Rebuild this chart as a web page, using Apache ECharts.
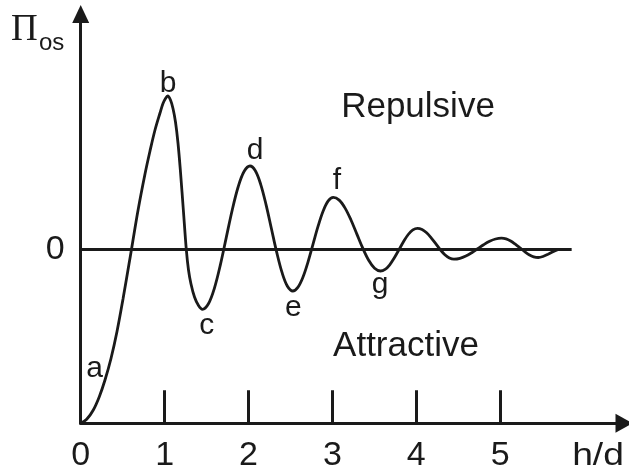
<!DOCTYPE html>
<html>
<head>
<meta charset="utf-8">
<script src="https://cdn.jsdelivr.net/npm/echarts@6/dist/echarts.min.js"></script>
<style>
  html, body { margin: 0; padding: 0; background: #ffffff; }
  #chart { width: 629px; height: 473px; }
</style>
</head>
<body>
<div id="chart"></div>
<script>
// Oscillatory disjoining pressure vs. separation h/d
const hd = [
  0, 0.0715, 0.1502, 0.2217, 0.2896, 0.3611, 0.4327, 0.5042, 0.5757, 0.6055,
  0.6829, 0.7664, 0.8260, 0.8856, 0.9452, 0.9809, 1.0107, 1.0369,
  1.0703, 1.1001, 1.1299, 1.1597, 1.1895, 1.2253, 1.2586, 1.2849, 1.3147, 1.3564, 1.4041, 1.4517,
  1.5225, 1.5933, 1.6640, 1.7348, 1.8056, 1.8764, 1.9471, 2.0179,
  2.0816, 2.1454, 2.2092, 2.2729, 2.3367, 2.4005, 2.4642, 2.5280,
  2.5883, 2.6488, 2.7091, 2.7694, 2.8297, 2.8901, 2.9504, 3.0107,
  3.0811, 3.1514, 3.2217, 3.2920, 3.3623, 3.4327, 3.5030, 3.5733,
  3.6285, 3.6835, 3.7387, 3.7938, 3.8490, 3.9040, 3.9592, 4.0143,
  4.0687, 4.1231, 4.1775, 4.2319, 4.2862, 4.3407, 4.3950, 4.4493,
  4.5202, 4.5910, 4.6617, 4.7324, 4.8032, 4.8740, 4.9447, 5.0155,
  5.0703, 5.1252, 5.1800, 5.2348, 5.2896, 5.3445, 5.3993, 5.4541,
  5.5101, 5.5697, 5.6293, 5.6925
];
const piOs = [
  -1.740, -1.700, -1.607, -1.474, -1.307, -1.092, -0.822, -0.497, -0.147, 0,
  0.388, 0.753, 0.983, 1.193, 1.363, 1.458, 1.508, 1.533,
  1.493, 1.408, 1.273, 1.063, 0.773, 0.373, 0, -0.207, -0.347, -0.477, -0.562, -0.600,
  -0.545, -0.390, -0.158, 0.117, 0.391, 0.623, 0.778, 0.833,
  0.785, 0.650, 0.447, 0.208, -0.031, -0.234, -0.369, -0.417,
  -0.381, -0.280, -0.128, 0.052, 0.231, 0.383, 0.484, 0.520,
  0.492, 0.412, 0.293, 0.152, 0.011, -0.109, -0.189, -0.217,
  -0.201, -0.155, -0.085, -0.004, 0.078, 0.148, 0.194, 0.210,
  0.198, 0.165, 0.115, 0.056, -0.004, -0.054, -0.087, -0.099,
  -0.091, -0.068, -0.034, 0.006, 0.046, 0.080, 0.103, 0.111,
  0.104, 0.083, 0.051, 0.015, -0.022, -0.054, -0.075, -0.082,
  -0.072, -0.050, -0.025, -0.002
];

// Point letters and where they sit
const letters = ['a', 'b', 'c', 'd', 'e', 'f', 'g'];
const letterHd = [0.1645, 1.0405, 1.5018, 2.0775, 2.5340, 3.0549, 3.5673];
const letterPi = [-1.195, 1.655, -0.765, 0.985, -0.585, 0.685, -0.350];

// Axis marks
const xTickValues = [1, 2, 3, 4, 5];
const xLabelValues = [0, 1, 2, 3, 4, 5];
const yLabelValues = [0];
const zeroLineEnd = 5.852;

const ink = '#1a1a1a';
const sans = '"Liberation Sans", Arial, sans-serif';

const chart = echarts.init(document.getElementById('chart'), null, { renderer: 'canvas' });

chart.setOption({
  backgroundColor: '#ffffff',
  animation: false,
  grid: {
    left: 80.7, right: 5, top: 14, bottom: 49.7,
    containLabel: false, outerBoundsMode: 'none'
  },
  xAxis: {
    type: 'value',
    min: 0,
    max: 6.476,
    axisLine: {
      onZero: false,
      lineStyle: { color: ink, width: 3 },
      symbol: ['none', 'triangle'],
      symbolSize: [19, 17]
    },
    axisTick: {
      show: true,
      inside: true,
      length: 33,
      customValues: xTickValues,
      lineStyle: { color: ink, width: 3 }
    },
    axisLabel: {
      customValues: xLabelValues,
      margin: 15,
      color: ink,
      fontSize: 34,
      fontFamily: sans,
      formatter: v => String(v)
    },
    splitLine: { show: false }
  },
  yAxis: {
    type: 'value',
    min: -1.74,
    max: 2.353,
    axisLine: {
      onZero: false,
      lineStyle: { color: ink, width: 3 },
      symbol: ['none', 'triangle'],
      symbolSize: [17, 18]
    },
    axisTick: { show: false },
    axisLabel: {
      customValues: yLabelValues,
      margin: 16,
      color: ink,
      fontSize: 34,
      fontFamily: sans,
      padding: [0, 0, 8, 0],
      formatter: v => String(v)
    },
    splitLine: { show: false }
  },
  series: [
    {
      type: 'line',
      data: hd.map((x, i) => [x, piOs[i]]),
      smooth: 0.35,
      symbol: 'none',
      lineStyle: { color: ink, width: 2.8 },
      markLine: {
        silent: true,
        symbol: ['none', 'none'],
        label: { show: false },
        lineStyle: { color: ink, width: 3, type: 'solid' },
        data: [[{ coord: [0, 0] }, { coord: [zeroLineEnd, 0] }]]
      },
      z: 3
    },
    {
      type: 'scatter',
      symbolSize: 0,
      itemStyle: { opacity: 1 },
      data: letters.map((l, i) => ({ name: l, value: [letterHd[i], letterPi[i]] })),
      label: {
        show: true,
        position: 'inside',
        formatter: p => p.name,
        color: ink,
        opacity: 1,
        fontSize: 30,
        fontFamily: sans
      },
      z: 4
    }
  ],
  graphic: [
    {
      type: 'text', x: 11, y: 30.5,
      style: { text: 'Π', fontSize: 37, fontFamily: '"Liberation Serif", "Times New Roman", serif',
        fill: ink, align: 'left', verticalAlign: 'middle', textAlign: 'left', textVerticalAlign: 'middle' }
    },
    {
      type: 'text', x: 39, y: 43.7,
      style: { text: 'os', fontSize: 24, fontFamily: sans,
        fill: ink, align: 'left', verticalAlign: 'middle', textAlign: 'left', textVerticalAlign: 'middle' }
    },
    {
      type: 'text', x: 598, y: 456, scaleX: 1.2,
      style: { text: 'h/d', fontSize: 31, fontFamily: sans,
        fill: ink, align: 'center', verticalAlign: 'middle', textAlign: 'center', textVerticalAlign: 'middle' }
    },
    {
      type: 'text', x: 418, y: 107,
      style: { text: 'Repulsive', fontSize: 35, fontFamily: sans,
        fill: ink, align: 'center', verticalAlign: 'middle', textAlign: 'center', textVerticalAlign: 'middle' }
    },
    {
      type: 'text', x: 406, y: 346,
      style: { text: 'Attractive', fontSize: 35, fontFamily: sans,
        fill: ink, align: 'center', verticalAlign: 'middle', textAlign: 'center', textVerticalAlign: 'middle' }
    }
  ]
});
</script>
</body>
</html>
